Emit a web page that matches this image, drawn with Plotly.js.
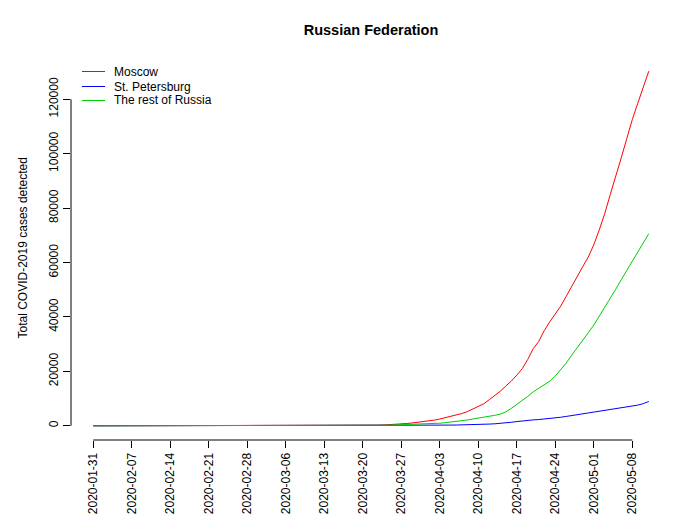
<!DOCTYPE html>
<html>
<head>
<meta charset="utf-8">
<script src="https://cdn.plot.ly/plotly-3.0.1.min.js"></script>
<style>html,body{margin:0;padding:0;background:#fff;}#chart{width:700px;height:525px;}</style>
</head>
<body>
<div id="chart"></div>
<script>
var dates = [
"2020-01-31","2020-02-01","2020-02-02","2020-02-03","2020-02-04","2020-02-05","2020-02-06","2020-02-07","2020-02-08","2020-02-09",
"2020-02-10","2020-02-11","2020-02-12","2020-02-13","2020-02-14","2020-02-15","2020-02-16","2020-02-17","2020-02-18","2020-02-19",
"2020-02-20","2020-02-21","2020-02-22","2020-02-23","2020-02-24","2020-02-25","2020-02-26","2020-02-27","2020-02-28","2020-02-29",
"2020-03-01","2020-03-02","2020-03-03","2020-03-04","2020-03-05","2020-03-06","2020-03-07","2020-03-08","2020-03-09","2020-03-10",
"2020-03-11","2020-03-12","2020-03-13","2020-03-14","2020-03-15","2020-03-16","2020-03-17","2020-03-18","2020-03-19","2020-03-20",
"2020-03-21","2020-03-22","2020-03-23","2020-03-24","2020-03-25","2020-03-26","2020-03-27","2020-03-28","2020-03-29","2020-03-30",
"2020-03-31","2020-04-01","2020-04-02","2020-04-03","2020-04-04","2020-04-05","2020-04-06","2020-04-07","2020-04-08","2020-04-09",
"2020-04-10","2020-04-11","2020-04-12","2020-04-13","2020-04-14","2020-04-15","2020-04-16","2020-04-17","2020-04-18","2020-04-19",
"2020-04-20","2020-04-21","2020-04-22","2020-04-23","2020-04-24","2020-04-25","2020-04-26","2020-04-27","2020-04-28","2020-04-29",
"2020-04-30","2020-05-01","2020-05-02","2020-05-03","2020-05-04","2020-05-05","2020-05-06","2020-05-07","2020-05-08","2020-05-09",
"2020-05-10","2020-05-11"];

var moscow = [
0,0,0,0,0,0,0,0,0,0,
0,0,0,0,0,0,0,0,0,0,
0,0,0,0,0,0,0,0,0,0,
0,1,1,1,1,1,1,2,5,5,
9,9,14,20,33,50,60,80,100,130,
150,200,260,330,410,550,700,850,1050,1250,
1500,1800,2100,2500,2950,3450,3950,4500,5200,6100,
7000,8100,9600,11000,12700,14600,16400,18600,21000,24400,
28400,31000,35000,38200,41000,44000,47600,51400,55000,58500,
62000,66500,72000,78000,85000,91500,98500,105500,112500,118500,
124500,130300];

var stpete = [
0,0,0,0,0,0,0,0,0,0,
0,0,0,0,0,0,0,0,0,0,
0,0,0,0,0,0,0,0,0,0,
0,0,0,0,0,1,1,1,1,1,
1,2,2,3,4,5,8,10,15,20,
25,30,40,50,60,75,90,110,130,150,
170,190,210,230,250,270,290,310,340,400,
470,550,640,740,850,1050,1300,1550,1850,2050,
2180,2300,2450,2650,2900,3150,3450,3750,4050,4350,
4650,4950,5400,5750,6050,6350,6650,6950,7250,7600,
8150,8950];

var rest = [
2,2,2,2,2,2,2,2,2,2,
2,2,2,2,2,2,2,2,2,2,
2,2,2,2,2,2,2,2,2,2,
2,2,2,2,3,4,6,8,10,12,
14,18,20,25,28,30,40,60,80,100,
130,160,190,230,280,330,380,450,520,600,
680,760,830,950,1150,1350,1600,1850,2150,2500,
2800,3100,3450,3850,4300,5100,6400,7800,9200,10800,
12500,13700,15000,16400,18300,20500,23100,26000,28600,31300,
34200,37000,40200,43500,46800,50200,53700,57000,60600,63800,
67200,70600];

var xTicks = ["2020-01-31","2020-02-07","2020-02-14","2020-02-21","2020-02-28","2020-03-06","2020-03-13",
"2020-03-20","2020-03-27","2020-04-03","2020-04-10","2020-04-17","2020-04-24","2020-05-01","2020-05-08"];
var yTicks = [0,20000,40000,60000,80000,100000,120000];
var yTickText = ["0","20000","40000","60000","80000","100000","120000"];

var seriesNames = ["Moscow","St. Petersburg","The rest of Russia"];
var seriesColors = ["#FF0000","#0000FF","#00CD00"];
var seriesData = [moscow, stpete, rest];

var traces = seriesData.map(function(d,i){
  return {x: dates, y: d, type: 'scatter', mode: 'lines', name: seriesNames[i],
          showlegend: false, line: {color: seriesColors[i], width: 1}};
});

// R-style 4% axis extension
var t0 = new Date(dates[0]+"T00:00:00Z").getTime();
var t1 = new Date(dates[dates.length-1]+"T00:00:00Z").getTime();
var xpad = 0.04*(t1-t0);
function iso(t){ return new Date(t).toISOString().replace('T',' ').replace('Z','').slice(0,19); }
var all = moscow.concat(stpete, rest);
var ymax = Math.max.apply(null, all), ymin = Math.min.apply(null, all);
var ypad = 0.04*(ymax-ymin);

var font = "Liberation Sans, Arial, Helvetica, sans-serif";

// plot area geometry (px) for the R-style legend
var W = 700, H = 525, mL = 71, mR = 29, mT = 57, mB = 85;
var pw = W-mL-mR, ph = H-mT-mB;
function px2x(p){ return (p-mL)/pw; }
function py2y(p){ return (H-mB-p)/ph; }
var legendRowsPx = [71.5, 86.5, 100.5];

var shapes = [
  {type: 'line', xref: 'x', yref: 'paper', x0: xTicks[0], x1: xTicks[xTicks.length-1], y0: 0, y1: 0,
   line: {color: '#000', width: 1}},
  {type: 'line', xref: 'paper', yref: 'y', x0: 0, x1: 0, y0: yTicks[0], y1: yTicks[yTicks.length-1],
   line: {color: '#000', width: 1}}
];
var annotations = [
  {text: "Total COVID-2019 cases detected", xref: 'paper', yref: 'paper', x: px2x(22), y: 0.5,
   xanchor: 'center', yanchor: 'middle', textangle: -90, showarrow: false,
   font: {family: font, size: 12, color: '#000'}}
];
seriesNames.forEach(function(n,i){
  var yy = py2y(legendRowsPx[i]);
  shapes.push({type: 'line', xref: 'paper', yref: 'paper', x0: px2x(82), x1: px2x(105), y0: yy, y1: yy,
               line: {color: seriesColors[i], width: 1}});
  annotations.push({text: n, xref: 'paper', yref: 'paper', x: px2x(112), y: yy, xanchor: 'left', yanchor: 'middle',
                    showarrow: false, font: {family: font, size: 12, color: '#000'}});
});

var layout = {
  width: W, height: H,
  paper_bgcolor: '#fff', plot_bgcolor: '#fff',
  margin: {l: mL, r: mR, t: mT, b: mB},
  font: {family: font, size: 12, color: '#000'},
  title: {text: "<b>Russian Federation</b>", font: {family: font, size: 14.5, color: '#000'},
          x: 0.5, xref: 'paper', xanchor: 'center', y: 0.943, yanchor: 'middle'},
  showlegend: false,
  xaxis: {type: 'date', range: [iso(t0-xpad), iso(t1+xpad)], showgrid: false, zeroline: false,
          showline: false, ticks: 'outside', ticklen: 7, tickwidth: 1, tickcolor: '#000',
          tickmode: 'array', tickvals: xTicks, ticktext: xTicks, tickangle: -90,
          tickfont: {family: font, size: 12, color: '#000'}},
  yaxis: {range: [ymin-ypad, ymax+ypad], showgrid: false, zeroline: false, showline: false,
          ticks: 'outside', ticklen: 7, tickwidth: 1, tickcolor: '#000',
          tickmode: 'array', tickvals: yTicks, ticktext: yTickText, tickangle: -90,
          tickfont: {family: font, size: 12, color: '#000'}},
  shapes: shapes,
  annotations: annotations
};

Plotly.newPlot('chart', traces, layout, {displayModeBar: false, staticPlot: true});
</script>
</body>
</html>
